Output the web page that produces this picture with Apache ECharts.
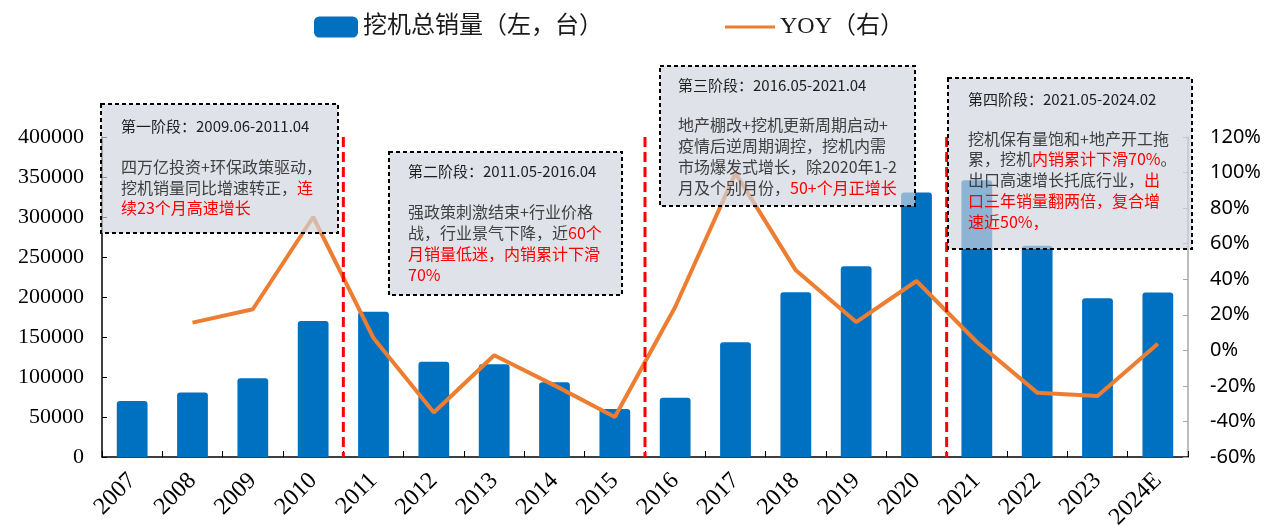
<!DOCTYPE html>
<html>
<head>
<meta charset="utf-8">
<script src="https://cdn.jsdelivr.net/npm/echarts@6/dist/echarts.min.js"></script>
<style>
  html, body { margin: 0; padding: 0; background: #fff; }
  #chart { width: 1278px; height: 526px; }
</style>
</head>
<body>
<div id="chart"></div>
<script>
// Excavator sales by year and year-on-year growth
const years = ['2007', '2008', '2009', '2010', '2011', '2012', '2013', '2014', '2015',
               '2016', '2017', '2018', '2019', '2020', '2021', '2022', '2023', '2024E'];
const sales = [70000, 80500, 98500, 170000, 181500, 119000, 116000, 93500, 60000,
               74000, 143500, 206000, 238500, 330500, 346000, 264000, 198500, 205500];
const yoy = [null, 15.6, 23.1, 75.0, 6.9, -35.0, -2.8, -19.7, -37.5,
             24.4, 99.7, 45.0, 15.9, 39.0, 4.7, -23.8, -25.7, 3.7];

const leftTicks = { min: 0, max: 400000, interval: 50000 };
const rightTicks = { min: -60, max: 120, interval: 20 };

const barName = '挖机总销量（左，台）';
const lineName = 'YOY（右）';

// Phase boundaries: dashed separator drawn between these category pairs
const phaseSplits = [[3, 4], [8, 9], [13, 14]];

// Phase annotation boxes: [left, top, right, bottom], title, body lines
const phases = [
  { box: [101, 104, 338, 233], titleAt: [121, 126], bodyTop: 157, lh: 20.5,
    title: '第一阶段：2009.06-2011.04',
    lines: ['{g|四万亿投资+环保政策驱动，}',
            '{g|挖机销量同比增速转正，}{r|连}',
            '{r|续23个月高速增长}'] },
  { box: [389, 152, 622, 295], titleAt: [408, 171], bodyTop: 201, lh: 21,
    title: '第二阶段：2011.05-2016.04',
    lines: ['{g|强政策刺激结束+行业价格}',
            '{g|战，行业景气下降，近}{r|60个}',
            '{r|月销量低迷，内销累计下滑}',
            '{r|70%}'] },
  { box: [660, 66, 915, 206], titleAt: [678, 85], bodyTop: 115, lh: 20.8,
    title: '第三阶段：2016.05-2021.04',
    lines: ['{g|地产棚改+挖机更新周期启动+}',
            '{g|疫情后逆周期调控，挖机内需}',
            '{g|市场爆发式增长，除2020年1-2}',
            '{g|月及个别月份，}{r|50+个月正增长}'] },
  { box: [948, 78, 1192, 249], titleAt: [968, 99], bodyTop: 128, lh: 20.9,
    title: '第四阶段：2021.05-2024.02',
    lines: ['{g|挖机保有量饱和+地产开工拖}',
            '{g|累，挖机}{r|内销累计下滑70%}{g|。}',
            '{g|出口高速增长托底行业，}{r|出}',
            '{r|口三年销量翻两倍，复合增}',
            '{r|速近50%，}'] }
];

const cjk = '"Noto Sans CJK SC", "Noto Sans", sans-serif';
const serif = '"Liberation Serif", "Noto Sans CJK SC", serif';

const chart = echarts.init(document.getElementById('chart'), null, { renderer: 'canvas' });

const legendText = { fontFamily: serif, fontSize: 24, color: '#1a1a1a' };

const option = {
  animation: false,
  backgroundColor: '#ffffff',
  legend: [
    {
      left: 309, top: 10,
      itemWidth: 44, itemHeight: 21,
      textStyle: legendText,
      data: [{ name: barName, icon: 'roundRect' }]
    },
    {
      left: 720, top: 10,
      itemWidth: 50, itemHeight: 3,
      textStyle: legendText,
      data: [{ name: lineName, icon: 'rect' }]
    }
  ],
  grid: {
    left: 102, right: 90, top: 137, bottom: 69,
    containLabel: false,
    outerBoundsMode: 'none'
  },
  xAxis: {
    type: 'category',
    data: years,
    boundaryGap: true,
    axisLine: { lineStyle: { color: '#000', width: 1.5 } },
    axisTick: { show: true, inside: true, length: 6, lineStyle: { color: '#000', width: 1 } },
    axisLabel: {
      rotate: 45, margin: 20, interval: 0,
      fontFamily: serif, fontSize: 24, color: '#000'
    },
    splitLine: { show: false }
  },
  yAxis: [
    {
      type: 'value',
      min: leftTicks.min, max: leftTicks.max, interval: leftTicks.interval,
      axisLine: { show: true, lineStyle: { color: '#000', width: 1.5 } },
      axisTick: { show: true, inside: true, length: 5, lineStyle: { color: '#000' } },
      axisLabel: {
        margin: 18, fontFamily: serif, fontSize: 22, color: '#000',
        formatter: v => String(v)
      },
      splitLine: { show: false }
    },
    {
      type: 'value',
      position: 'right',
      min: rightTicks.min, max: rightTicks.max, interval: rightTicks.interval,
      axisLine: { show: true, lineStyle: { color: '#a6a6a6', width: 1.5 } },
      axisTick: { show: true, inside: true, length: 5, lineStyle: { color: '#a6a6a6' } },
      axisLabel: {
        margin: 22, fontFamily: '"Noto Sans", sans-serif', fontSize: 20, color: '#000',
        formatter: '{value}%'
      },
      splitLine: { show: false }
    }
  ],
  series: [
    {
      name: barName,
      type: 'bar',
      yAxisIndex: 0,
      data: sales,
      barWidth: '51%',
      itemStyle: { color: '#0070C0', borderRadius: [3, 3, 0, 0] },
      z: 2
    },
    {
      name: lineName,
      type: 'line',
      yAxisIndex: 1,
      data: yoy,
      symbol: 'none',
      connectNulls: false,
      lineStyle: { color: '#ED7D31', width: 4 },
      itemStyle: { color: '#ED7D31' },
      z: 3
    }
  ]
};

chart.setOption(option);

// Separators and annotation boxes, placed after the axes are laid out
function buildGraphics() {
  const els = [];
  const yTop = chart.convertToPixel({ yAxisIndex: 0 }, leftTicks.max);
  const yBot = chart.convertToPixel({ yAxisIndex: 0 }, leftTicks.min);
  phaseSplits.forEach(([a, b]) => {
    const x = (chart.convertToPixel({ xAxisIndex: 0 }, a) +
               chart.convertToPixel({ xAxisIndex: 0 }, b)) / 2;
    els.push({
      type: 'line', z: 50, silent: true,
      shape: { x1: x, y1: yTop, x2: x, y2: yBot },
      style: { stroke: '#FF0000', lineWidth: 3, lineDash: [10, 5] }
    });
  });
  phases.forEach(p => {
    const [l, t, r, b] = p.box;
    els.push({
      type: 'rect', z: 60, silent: true,
      shape: { x: l, y: t, width: r - l, height: b - t },
      style: { fill: 'rgba(208,212,223,0.68)', stroke: '#000', lineWidth: 2, lineDash: [4, 3] }
    });
    els.push({
      type: 'text', z: 61, silent: true,
      x: p.titleAt[0], y: p.titleAt[1],
      style: {
        text: p.title, fill: '#1f1f1f',
        font: '15px ' + cjk, verticalAlign: 'middle', align: 'left'
      }
    });
    els.push({
      type: 'text', z: 61, silent: true,
      x: p.titleAt[0], y: p.bodyTop,
      style: {
        text: p.lines.join('\n'),
        verticalAlign: 'top', align: 'left',
        rich: {
          g: { fill: '#404040', fontSize: 16, fontFamily: cjk, lineHeight: p.lh },
          r: { fill: '#FF0000', fontSize: 16, fontFamily: cjk, lineHeight: p.lh }
        }
      }
    });
  });
  chart.setOption({ graphic: { elements: els } });
}
buildGraphics();
</script>
</body>
</html>
